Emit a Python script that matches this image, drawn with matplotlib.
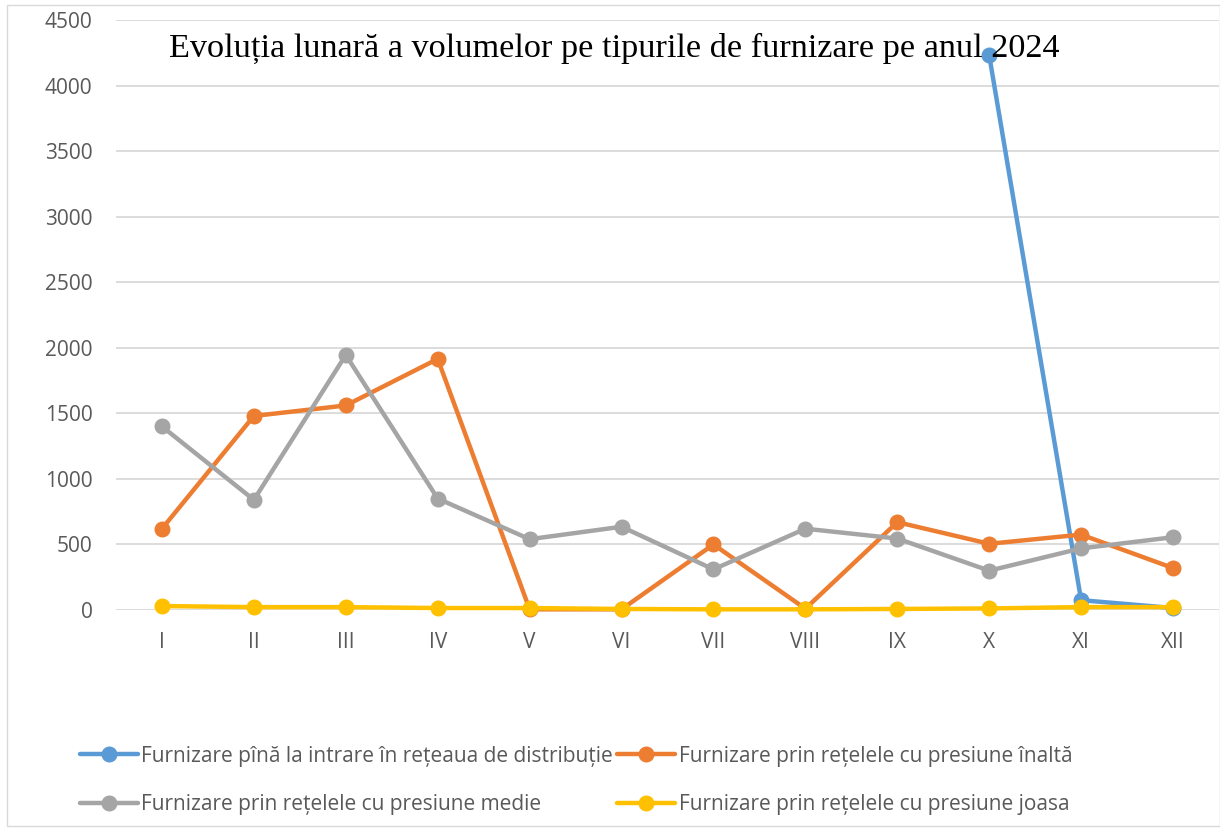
import numpy as np
import matplotlib
matplotlib.use("Agg")
import matplotlib.pyplot as plt
from matplotlib.patches import Rectangle

months = ["I", "II", "III", "IV", "V", "VI", "VII", "VIII", "IX", "X", "XI", "XII"]
s_blue = [np.nan] * 9 + [4230, 75, 15]
s_orange = [620, 1480, 1560, 1915, 5, 5, 500, 10, 670, 505, 575, 320]
s_gray = [1400, 840, 1945, 850, 540, 635, 310, 620, 545, 300, 470, 555]
s_yellow = [30, 22, 22, 15, 15, 8, 5, 5, 8, 12, 22, 22]
names = ["Furnizare pînă la intrare în rețeaua de distribuție",
         "Furnizare prin rețelele cu presiune înaltă",
         "Furnizare prin rețelele cu presiune medie",
         "Furnizare prin rețelele cu presiune joasa"]
colors = ["#5B9BD5", "#ED7D31", "#A5A5A5", "#FFC000"]
title = "Evoluția lunară a volumelor pe tipurile de furnizare pe anul 2024"
yticks = [0, 500, 1000, 1500, 2000, 2500, 3000, 3500, 4000, 4500]

plt.rcParams['font.family'] = ["Open Sans", "DejaVu Sans"]

fig = plt.figure(figsize=(12.2, 8.3), dpi=100)
fig.patches.append(Rectangle((7/1220, 1-826/830), 1-7/1220, 821/830, transform=fig.transFigure,
                             fill=False, edgecolor="#D9D9D9", linewidth=1))
ax = fig.add_axes([116/1220, 1-610/830, 1103/1220, 590/830])
x = np.arange(len(months))
handles = []
for data, name, c in zip([s_blue, s_orange, s_gray, s_yellow], names, colors):
    h, = ax.plot(x, data, color=c, linewidth=3.2, marker="o", markersize=10.5,
                 label=name, clip_on=False, solid_capstyle="round", zorder=3)
    handles.append(h)
ax.set_xlim(-0.5, 11.5)
ax.set_ylim(0, 4500)
ax.set_yticks(yticks)
ax.set_xticks(x)
ax.set_xticklabels(months)
ax.grid(axis="y", color="#D9D9D9", linewidth=1.3)
ax.set_axisbelow(True)
for sp in ax.spines.values():
    sp.set_visible(False)
ax.tick_params(axis="both", length=0, colors="#595959", labelsize=15)
ax.tick_params(axis="y", pad=17)
ax.tick_params(axis="x", pad=16)

fig.text(614/1220, 1-48/830, title, ha="center", va="center",
         family=["Liberation Serif", "DejaVu Serif"], fontsize=24.7, color="black")

leg = fig.legend([handles[0], handles[2], handles[1], handles[3]],
                 [names[0], names[2], names[1], names[3]],
                 ncol=2, loc="upper left", bbox_to_anchor=(61/1220, 1-727/830),
                 frameon=False, fontsize=15, handlelength=2.8, handletextpad=0.15,
                 columnspacing=0.2, labelspacing=1.3, labelcolor="#595959")
fig.savefig("out.png", dpi=100)
